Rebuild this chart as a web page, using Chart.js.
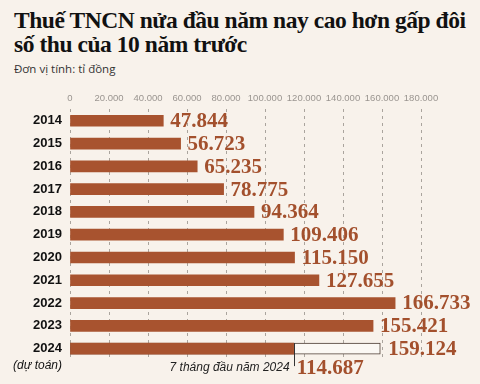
<!DOCTYPE html>
<html>
<head>
<meta charset="utf-8">
<script src="https://cdn.jsdelivr.net/npm/chart.js@4.4.1/dist/chart.umd.min.js"></script>
<style>
  html, body { margin: 0; padding: 0; background: #f8f2eb; }
  #wrap { position: relative; width: 480px; height: 384px; overflow: hidden; }
  #title {
    position: absolute; left: 14px; top: 8px; white-space: nowrap;
    font-family: "Liberation Serif", serif; font-weight: bold;
    font-size: 23.5px; line-height: 24px; color: #111; letter-spacing: -0.45px;
  }
  #sub {
    position: absolute; left: 14px; top: 61px;
    font-family: "Open Sans", sans-serif; font-size: 11.5px; color: #333;
  }
  canvas { position: absolute; left: 0; top: 0; }
</style>
</head>
<body>
<div id="wrap">
  <div id="title">Thuế TNCN nửa đầu năm nay cao hơn gấp đôi<br>số thu của 10 năm trước</div>
  <div id="sub">Đơn vị tính: tỉ đồng</div>
  <canvas id="chart" width="480" height="384"></canvas>
</div>
<script>
'use strict';

const years = ['2014', '2015', '2016', '2017', '2018', '2019', '2020', '2021', '2022', '2023', '2024'];
const revenue = [47844, 56723, 65235, 78775, 94364, 109406, 115150, 127655, 166733, 155421, 114687];
const estimate2024 = [null, null, null, null, null, null, null, null, null, null, 159124];
const partialNote = '7 tháng đầu năm 2024';
const estimateNote = '(dự toán)';

const barColor = '#a8532f';
const labelColor = '#a3502d';

function fmt(v) {
    return String(v).replace(/\B(?=(\d{3})+(?!\d))/g, '.');
}

const labelsPlugin = {
    id: 'labels',
    afterDatasetsDraw(chart) {
        const ctx = chart.ctx;
        const main = chart.getDatasetMeta(0);
        const est = chart.getDatasetMeta(1);
        const last = years.length - 1;
        ctx.save();

        // year labels
        ctx.fillStyle = '#111';
        ctx.font = 'bold 13px "Liberation Sans", Arial, sans-serif';
        ctx.textAlign = 'right';
        ctx.textBaseline = 'middle';
        main.data.forEach((bar, i) => {
            ctx.fillText(years[i], 62, bar.y);
        });
        ctx.font = 'italic 12px "Liberation Sans", Arial, sans-serif';
        ctx.fillText(estimateNote, 62, main.data[last].y + 17);

        // value labels
        ctx.fillStyle = labelColor;
        ctx.font = 'bold 21px "Liberation Serif", serif';
        ctx.textAlign = 'left';
        main.data.forEach((bar, i) => {
            if (i === last) return;
            ctx.fillText(fmt(revenue[i]), bar.x + 7, bar.y + 1);
        });
        const eb = est.data[last];
        ctx.fillText(fmt(estimate2024[last]), eb.x + 8, eb.y + 1);

        // partial 2024 marker
        const pb = main.data[last];
        const bottom = pb.y + pb.height / 2;
        ctx.strokeStyle = '#333';
        ctx.lineWidth = 1;
        ctx.beginPath();
        ctx.moveTo(Math.round(pb.x) + 0.5, pb.y - pb.height / 2);
        ctx.lineTo(Math.round(pb.x) + 0.5, bottom + 12);
        ctx.stroke();
        ctx.fillText(fmt(revenue[last]), pb.x + 3, bottom + 14);
        ctx.fillStyle = '#222';
        ctx.font = 'italic 12px "Liberation Sans", Arial, sans-serif';
        ctx.textAlign = 'right';
        ctx.fillText(partialNote, pb.x - 4, bottom + 14);
        ctx.restore();
    }
};

new Chart(document.querySelector('#chart'), {
    type: 'bar',
    data: {
        labels: years,
        datasets: [{
            label: 'Thực thu',
            data: revenue,
            backgroundColor: barColor,
            borderWidth: 0,
            barThickness: 11,
            grouped: false,
            order: 0
        }, {
            label: 'Dự toán',
            data: estimate2024,
            backgroundColor: '#fbf8f4',
            borderColor: '#4a3a30',
            borderWidth: 1,
            borderSkipped: false,
            barThickness: 11,
            grouped: false,
            order: 1
        }]
    },
    options: {
        indexAxis: 'y',
        responsive: false,
        animation: false,
        layout: { padding: { top: 88, left: 70, right: 20, bottom: 24 } },
        plugins: { legend: { display: false }, tooltip: { enabled: false } },
        scales: {
            x: {
                position: 'top',
                min: 0,
                max: 200000,
                grid: {
                    drawTicks: false,
                    color: (c) => (c.tick && c.tick.value > 180000) ? 'rgba(0,0,0,0)' : '#aaa49d',
                    lineWidth: 1
                },
                border: { display: false, dash: [3, 4] },
                ticks: {
                    stepSize: 20000,
                    padding: 5,
                    maxRotation: 0,
                    autoSkip: false,
                    color: '#9a9590',
                    font: { family: '"Liberation Sans", Arial, sans-serif', size: 9.5 },
                    callback: (v) => v > 180000 ? '' : fmt(v)
                }
            },
            y: {
                display: false
            }
        }
    },
    plugins: [labelsPlugin]
});
</script>
</body>
</html>
